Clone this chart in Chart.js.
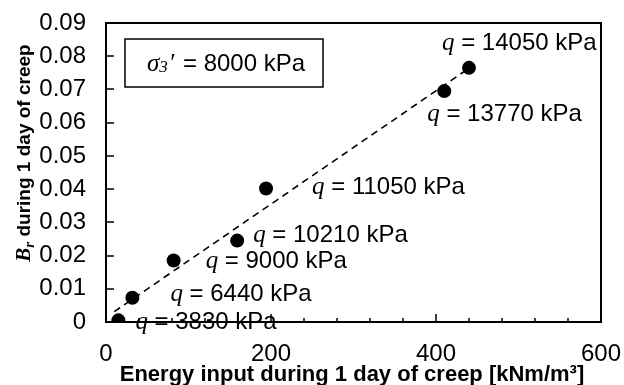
<!DOCTYPE html>
<html>
<head>
<meta charset="utf-8">
<script src="https://cdn.jsdelivr.net/npm/chart.js@4/dist/chart.umd.min.js"></script>
<style>
  html, body { margin: 0; padding: 0; background: #fff; }
</style>
</head>
<body>
<canvas id="chart" width="624" height="385"></canvas>
<script>
// data
const energy = [15, 32, 82, 159, 194, 410, 440];
const brValues = [0.0005, 0.0073, 0.0185, 0.0245, 0.0402, 0.0695, 0.0765];
const qValues = [3830, 6440, 9000, 10210, 11050, 13770, 14050];
const trendX = [10, 440];
const trendY = [0.0031, 0.0764];
const xTickValues = [0, 200, 400, 600];
const yTickValues = [0, 0.01, 0.02, 0.03, 0.04, 0.05, 0.06, 0.07, 0.08, 0.09];
const xMinorValues = [40, 80, 120, 160, 240, 280, 320, 360, 440, 480, 520, 560];

// where each q label sits relative to its point (px)
const labelOffsets = [[17, 2], [38, -3], [32, 1], [16, -5], [46, -1], [-17, 23], [-27, -24]];

const SANS = '"Liberation Sans", Arial, sans-serif';
const SERIF = '"Liberation Serif", "Times New Roman", serif';

function drawRuns(ctx, runs, x, y) {
  let cx = x;
  runs.forEach(r => {
    ctx.font = r.f;
    ctx.fillText(r.t, cx, y + (r.dy || 0));
    cx += ctx.measureText(r.t).width + (r.gap || 0);
  });
  return cx - x;
}
function runsWidth(ctx, runs) {
  let w = 0;
  runs.forEach(r => { ctx.font = r.f; w += ctx.measureText(r.t).width + (r.gap || 0); });
  return w;
}

const extras = {
  id: 'extras',
  afterDraw(chart) {
    const ctx = chart.ctx;
    const a = chart.chartArea;
    const xs = chart.scales.x, ys = chart.scales.y;
    ctx.save();
    ctx.strokeStyle = '#000';
    ctx.fillStyle = '#000';

    // frame
    ctx.lineWidth = 2;
    ctx.strokeRect(a.left, a.top, a.right - a.left, a.bottom - a.top);

    // inward tick marks
    ctx.beginPath();
    yTickValues.forEach(v => {
      const py = Math.round(ys.getPixelForValue(v));
      ctx.moveTo(a.left, py); ctx.lineTo(a.left + 8, py);
    });
    xTickValues.forEach(v => {
      const px = Math.round(xs.getPixelForValue(v));
      ctx.moveTo(px, a.bottom); ctx.lineTo(px, a.bottom - 8);
    });
    xMinorValues.forEach(v => {
      const px = Math.round(xs.getPixelForValue(v));
      ctx.moveTo(px, a.bottom); ctx.lineTo(px, a.bottom - 4);
    });
    ctx.lineWidth = 1.5;
    ctx.stroke();

    // q labels
    ctx.textBaseline = 'middle';
    ctx.textAlign = 'left';
    energy.forEach((e, i) => {
      const px = xs.getPixelForValue(e), py = ys.getPixelForValue(brValues[i]);
      drawRuns(ctx, [
        { t: 'q', f: 'italic 25px ' + SERIF },
        { t: ' = ' + qValues[i] + ' kPa', f: '24px ' + SANS }
      ], px + labelOffsets[i][0], py + labelOffsets[i][1]);
    });

    // confining pressure box
    ctx.lineWidth = 1.5;
    ctx.strokeRect(125, 39, 198, 48);
    drawRuns(ctx, [
      { t: 'σ', f: 'italic 25px ' + SERIF },
      { t: '3', f: 'italic 17px ' + SERIF, dy: 4, gap: 1 },
      { t: '′', f: 'italic 25px ' + SERIF, gap: 2 },
      { t: ' = 8000 kPa', f: '24px ' + SANS }
    ], 147, 64);

    // x axis title
    ctx.font = 'bold 22px ' + SANS;
    ctx.textAlign = 'center';
    ctx.fillText('Energy input during 1 day of creep [kNm/m³]', 352, 375);

    // y axis title
    ctx.textAlign = 'left';
    ctx.translate(25, 153);
    ctx.rotate(-Math.PI / 2);
    const yRuns = [
      { t: 'B', f: 'bold italic 21px ' + SERIF },
      { t: 'r', f: 'bold italic 15px ' + SERIF, dy: 5 },
      { t: ' during 1 day of creep', f: 'bold 19px ' + SANS }
    ];
    drawRuns(ctx, yRuns, -runsWidth(ctx, yRuns) / 2, 0);
    ctx.restore();
  }
};

new Chart(document.getElementById('chart'), {
  type: 'scatter',
  data: {
    datasets: [
      {
        data: energy.map((e, i) => ({ x: e, y: brValues[i] })),
        pointRadius: 7,
        pointHoverRadius: 7,
        backgroundColor: '#000',
        borderWidth: 0
      },
      {
        type: 'line',
        data: trendX.map((e, i) => ({ x: e, y: trendY[i] })),
        borderColor: '#000',
        borderWidth: 1.6,
        borderDash: [7, 5],
        pointRadius: 0,
        fill: false
      }
    ]
  },
  options: {
    responsive: false,
    animation: false,
    devicePixelRatio: 1,
    layout: { padding: { top: 23, right: 23, left: 0, bottom: 0 } },
    plugins: { legend: { display: false }, tooltip: { enabled: false } },
    scales: {
      x: {
        type: 'linear',
        min: 0, max: 600,
        afterBuildTicks: s => { s.ticks = xTickValues.map(v => ({ value: v })); },
        afterFit: s => { s.height = 63; },
        grid: { display: false, drawTicks: true, tickLength: 18 },
        border: { display: false },
        ticks: { color: '#000', font: { family: SANS, size: 24 }, padding: 0, maxRotation: 0 }
      },
      y: {
        type: 'linear',
        min: 0, max: 0.09,
        afterBuildTicks: s => { s.ticks = yTickValues.map(v => ({ value: v })); },
        afterFit: s => { s.width = 106; },
        grid: { display: false, drawTicks: true, tickLength: 20 },
        border: { display: false },
        ticks: {
          color: '#000',
          font: { family: SANS, size: 24 },
          padding: 0,
          callback: v => v === 0 ? '0' : v.toFixed(2)
        }
      }
    }
  },
  plugins: [extras]
});
</script>
</body>
</html>
